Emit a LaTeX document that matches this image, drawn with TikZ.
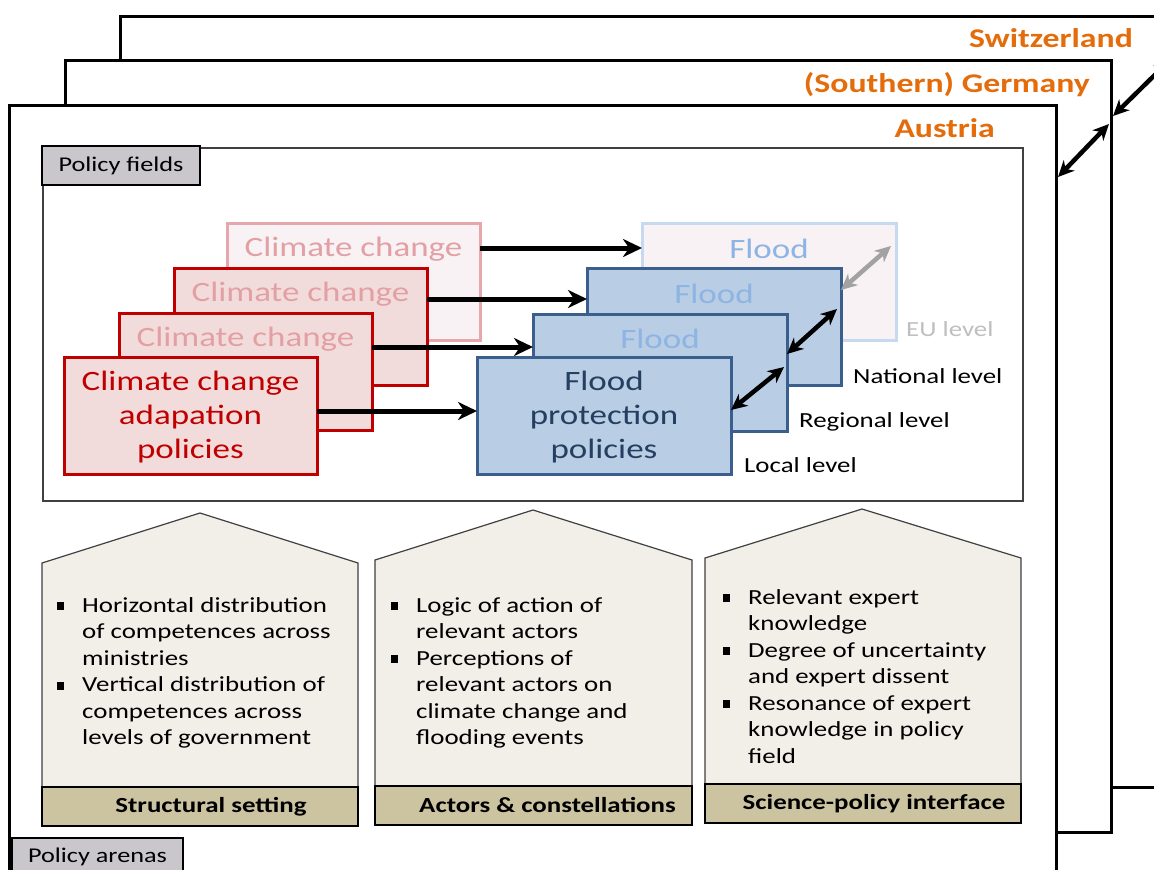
\documentclass[tikz,border=0pt]{standalone}
\usepackage{fontspec}
\setmainfont{Carlito}[FakeStretch=1.25]
\usetikzlibrary{arrows.meta}

\definecolor{orangeT}{HTML}{E46C0A}
\definecolor{ccRed}{HTML}{C00000}
\definecolor{ccFill}{HTML}{F2DCDB}
\definecolor{ccFaint}{HTML}{F8F2F5}
\definecolor{ccFaintLine}{HTML}{E6A6AC}
\definecolor{ccFaintText}{HTML}{E3A0A4}
\definecolor{flFill}{HTML}{B9CDE5}
\definecolor{flLine}{HTML}{3A5F8C}
\definecolor{flText}{HTML}{8DB4E2}
\definecolor{flDark}{HTML}{243F60}
\definecolor{euLine}{HTML}{C6D9F1}
\definecolor{euText}{HTML}{BFBFBF}
\definecolor{labelGray}{HTML}{C9C6CC}
\definecolor{houseFill}{HTML}{F2EEE8}
\definecolor{houseLine}{HTML}{404040}
\definecolor{barFill}{HTML}{CCC3A0}

\newcommand\bul{\makebox[25pt][l]{\raisebox{2pt}{\rule{7pt}{8pt}}}}
\newcommand\ind{\hspace*{25pt}}

\tikzset{
  frame/.style={draw=black, line width=3pt, fill=white, rectangle,
    inner sep=0pt, outer sep=0pt, anchor=north west},
  country/.style={text=orangeT, font=\fontsize{27}{32}\selectfont\bfseries,
    anchor=base east, inner sep=0pt},
  tag/.style={draw=black, line width=2pt, fill=labelGray, inner sep=0pt,
    outer sep=0pt, anchor=north west, font=\fontsize{21}{26}\selectfont},
  ccbox/.style={draw=ccRed, line width=3pt, fill=ccFill, minimum width=253pt,
    minimum height=117pt, anchor=north west, inner sep=0pt, outer sep=0pt},
  ccback/.style={ccbox, draw=ccFaintLine, fill=ccFaint},
  flbox/.style={draw=flLine, line width=3pt, fill=flFill, minimum width=254pt,
    minimum height=117pt, anchor=north west, inner sep=0pt, outer sep=0pt},
  flback/.style={flbox, draw=euLine, fill=ccFaint},
  big/.style={font=\fontsize{28}{34}\selectfont, inner sep=0pt},
  level/.style={font=\fontsize{21.5}{26}\selectfont, anchor=west, inner sep=0pt},
  harrow/.style={draw=black, line width=5pt,
    -{Stealth[length=19pt,width=18pt,inset=6pt]}},
  darrow/.style={draw=black, line width=4.5pt,
    {Stealth[length=16pt,width=15pt,inset=5pt]}-{Stealth[length=16pt,width=15pt,inset=5pt]}},
  house/.style={draw=houseLine, line width=1.2pt, fill=houseFill},
  items/.style={font=\fontsize{21.5}{26.5}\selectfont, anchor=base west, inner sep=0pt},
  bar/.style={draw=black, line width=2pt, fill=barFill, inner sep=0pt, outer sep=0pt,
    anchor=north west, minimum height=39pt,
    font=\fontsize{21.5}{26}\selectfont\bfseries},
}

\begin{document}
\begin{tikzpicture}[x=1pt, y=-1pt]
\useasboundingbox (0,0) rectangle (1154,870);
\clip (0,0) rectangle (1154,870);

% three stacked country frames
\node[frame, minimum width=1060pt, minimum height=771pt] (ch) at (120,16) {};
\node[frame, minimum width=1046pt, minimum height=772pt] (de) at (65,60) {};
\node[frame, minimum width=1047pt, minimum height=800pt] (at) at (9,105) {};

\node[country] (chl) at (1133,47) {Switzerland};
\node[country] (del) at (1090,92) {(Southern) Germany};
\node[country] (atl) at (995,137) {Austria};

% links between the country frames
\coordinate (chend) at (1170,60);
\draw[darrow] ([xshift=2pt,yshift=-72pt]at.north east) -- ([xshift=-2pt,yshift=-64pt]de.north east);
\draw[darrow] ([xshift=2pt,yshift=-56pt]de.north east) -- (chend);

% policy fields panel
\node[draw=houseLine, line width=1.2pt, minimum width=980pt, minimum height=353pt,
  anchor=north west, inner sep=0pt, outer sep=0pt] (pf) at (43,148) {};
\node[tag, minimum width=158pt, minimum height=39pt] (pft) at (42,146) {Policy fields};

% climate change boxes, back to front
\node[ccback] (cc4) at (227,223) {};
\node[big, text=ccFaintText] (cc4t) at ([yshift=-26pt]cc4.north) {Climate change};
\node[ccbox] (cc3) at (174,268) {};
\node[big, text=ccFaintText] (cc3t) at ([yshift=-26pt]cc3.north) {Climate change};
\node[ccbox] (cc2) at (119,313) {};
\node[big, text=ccFaintText] (cc2t) at ([yshift=-26pt]cc2.north) {Climate change};
\node[ccbox] (cc1) at (64,357) {};
\node[big, text=ccRed, align=center] (cc1t) at ([yshift=-2pt]cc1.center) {Climate change\\adapation\\policies};

% flood protection boxes, back to front
\node[flback] (fl4) at (642,223) {};
\node[big, text=flText] (fl4t) at ([yshift=-26pt]fl4.north) {Flood};
\node[flbox] (fl3) at (587,268) {};
\node[big, text=flText] (fl3t) at ([yshift=-26pt]fl3.north) {Flood};
\node[flbox] (fl2) at (533,314) {};
\node[big, text=flText] (fl2t) at ([yshift=-25pt]fl2.north) {Flood};
\node[flbox] (fl1) at (477,357) {};
\node[big, text=flDark, align=center] (fl1t) at ([yshift=-2pt]fl1.center) {Flood\\protection\\policies};

% level captions
\node[level, text=euText] (eul) at ([xshift=10pt,yshift=11pt]fl4.south east) {EU level};
\node[level] (natl) at ([xshift=12pt,yshift=9pt]fl3.south east) {National level};
\node[level] (regl) at ([xshift=12pt,yshift=9pt]fl2.south east) {Regional level};
\node[level] (locl) at ([xshift=13pt,yshift=9pt]fl1.south east) {Local level};

% links from climate policy to flood policy at each level
\draw[harrow] ([yshift=-25pt]cc4.north east) coordinate (r4) -- (r4 -| fl4.west);
\draw[harrow] ([yshift=-31pt]cc3.north east) coordinate (r3) -- (r3 -| fl3.west);
\draw[harrow] ([yshift=-34pt]cc2.north east) coordinate (r2) -- (r2 -| fl2.west);
\draw[harrow] ([yshift=-54pt]cc1.north east) coordinate (r1) -- (r1 -| fl1.west);

% links between levels
\draw[darrow] ([yshift=-53pt]fl1.north east) -- ([xshift=-3pt,yshift=-53pt]fl2.north east);
\draw[darrow] ([yshift=-40pt]fl2.north east) -- ([xshift=-4pt,yshift=-41pt]fl3.north east);
\draw[darrow, draw=euText!85!black] ([yshift=-22pt]fl3.north east) -- ([xshift=-5pt,yshift=-23pt]fl4.north east);

% three pillars
\draw[house] (42,787) -- (42,563) -- (200,513) -- (358,563) -- (358,787) -- cycle;
\draw[house] (375,786) -- (375,560) -- (533,510) -- (692,560) -- (692,786) -- cycle;
\draw[house] (705,784) -- (705,558) -- (862,509) -- (1021,558) -- (1021,784) -- cycle;

\node[items] (h1) at (57,612) {\begin{tabular}[t]{@{}l@{}}
\bul Horizontal distribution\\
\ind of competences across\\
\ind ministries\\
\bul Vertical distribution of\\
\ind competences across\\
\ind levels of government
\end{tabular}};

\node[items] (h2) at (391,612) {\begin{tabular}[t]{@{}l@{}}
\bul Logic of action of\\
\ind relevant actors\\
\bul Perceptions of\\
\ind relevant actors on\\
\ind climate change and\\
\ind flooding events
\end{tabular}};

\node[items] (h3) at (723,604) {\begin{tabular}[t]{@{}l@{}}
\bul Relevant expert\\
\ind knowledge\\
\bul Degree of uncertainty\\
\ind and expert dissent\\
\bul Resonance of expert\\
\ind knowledge in policy\\
\ind field
\end{tabular}};

\node[bar, minimum width=316pt] (b1) at (42,787) {\hspace*{22pt}Structural setting};
\node[bar, minimum width=317pt] (b2) at (375,786) {\hspace*{28pt}Actors \& constellations};
\node[bar, minimum width=316pt] (b3) at (705,784) {\hspace*{22pt}Science-policy interface};

% policy arenas tag
\node[tag, minimum width=171pt, minimum height=38pt] (pa) at (12,838) {Policy arenas};
\end{tikzpicture}
\end{document}
